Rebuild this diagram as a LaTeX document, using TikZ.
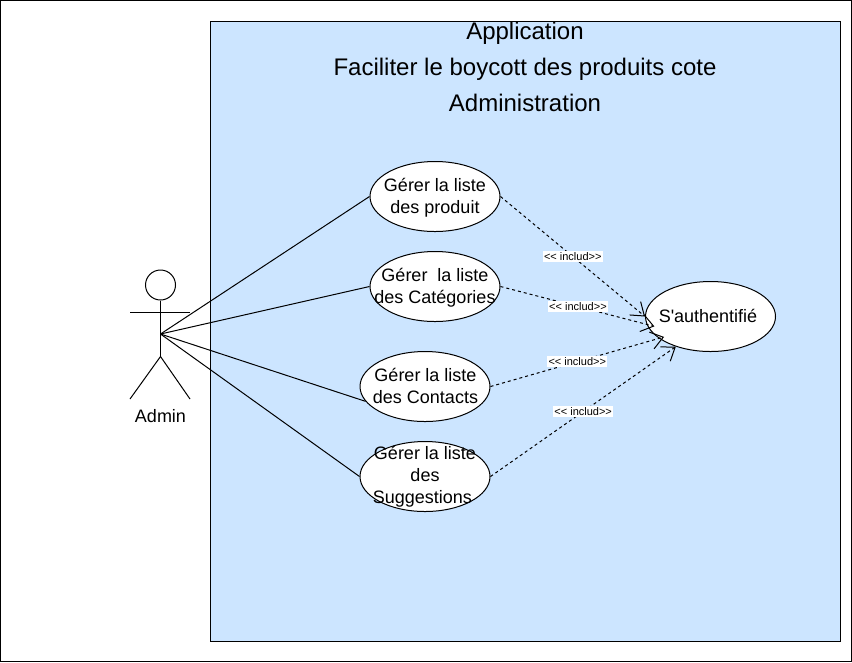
\documentclass[tikz,border=0pt]{standalone}
\usepackage{fontspec}
\setmainfont{Liberation Sans}[Ligatures=TeXOff]
\usetikzlibrary{arrows.meta,shapes.geometric}
\tikzset{
  usecase/.style={draw,ellipse,fill=white,minimum width=97.5pt,minimum height=52.5pt,inner sep=0pt},
  casetext/.style={align=center,inner sep=0pt,font=\fontsize{13.5}{16.5}\selectfont},
  includ/.style={draw,dashed,dash pattern=on 2.25pt off 2.25pt,-{Straight Barb[length=9pt,width=13pt]}},
  includtext/.style={fill=white,inner xsep=1pt,inner ysep=1pt,font=\fontsize{8.25}{10}\selectfont},
}
\begin{document}
\begin{tikzpicture}[x=0.75pt,y=-0.75pt,line width=0.75pt]
  \useasboundingbox (0,0) rectangle (852,662);
  \draw[fill=white] (0.5,0.5) rectangle (851,661.5);
  % system boundary
  \draw[fill={rgb,255:red,204;green,229;blue,255}] (210.5,21.5) rectangle (840.5,641);
  \node[align=center,inner sep=0pt,font=\fontsize{18}{27}\selectfont] (title) at (525,67) {Application\\Faciliter le boycott des produits cote\\Administration};
  % actor
  \node[draw,circle,minimum size=22.5pt,inner sep=0pt] (head) at (160.5,285) {};
  \coordinate (neck) at (160.5,356.5);
  \coordinate (hub) at (160.5,334);
  \draw (head.south) -- (neck);
  \draw (130,312.5) -- (190,312.5);
  \draw (130,399) -- (neck) -- (190,399);
  \node[casetext] (admin) at (160.5,416) {Admin};
  % use cases
  \node[usecase] (produit) at (435,196.5) {};
  \node[usecase] (categorie) at (435,286.5) {};
  \node[usecase] (contact) at (425,386.5) {};
  \node[usecase] (suggestion) at (425,476.5) {};
  \node[usecase] (auth) at (710.5,316.5) {};
  \node[casetext] (produittext) at (435,197.5) {Gérer la liste\\des produit};
  \node[casetext] (categorietext) at (435,287.5) {Gérer\ \ la liste\\des Catégories};
  \node[casetext] (contacttext) at (425.5,386) {Gérer la liste\\des Contacts};
  \node[casetext] (suggestiontext) at (425,477) {Gérer la liste\\des\\Suggestions\hspace*{4pt}};
  \node[casetext] (authtext) at (708,316) {S'authentifié};
  % associations
  \draw (hub) -- (produit.180);
  \draw (hub) -- (categorie.180);
  \draw (hub) -- (contact.194);
  \draw (hub) -- (suggestion.180);
  % includes
  \draw[includ] (produit.0) -- (auth.180) node[includtext,midway] (inc1) {<< includ>>};
  \draw[includ,shorten >=-6pt] (categorie.0) -- (auth.187) node[includtext,pos=0.53] (inc2) {<< includ>>};
  \draw[includ,shorten >=-4pt] (contact.0) -- (auth.203) node[includtext,pos=0.515] (inc3) {<< includ>>};
  \draw[includ] (suggestion.0) -- (auth.221) node[includtext,midway] (inc4) {<< includ>>};
\end{tikzpicture}
\end{document}
